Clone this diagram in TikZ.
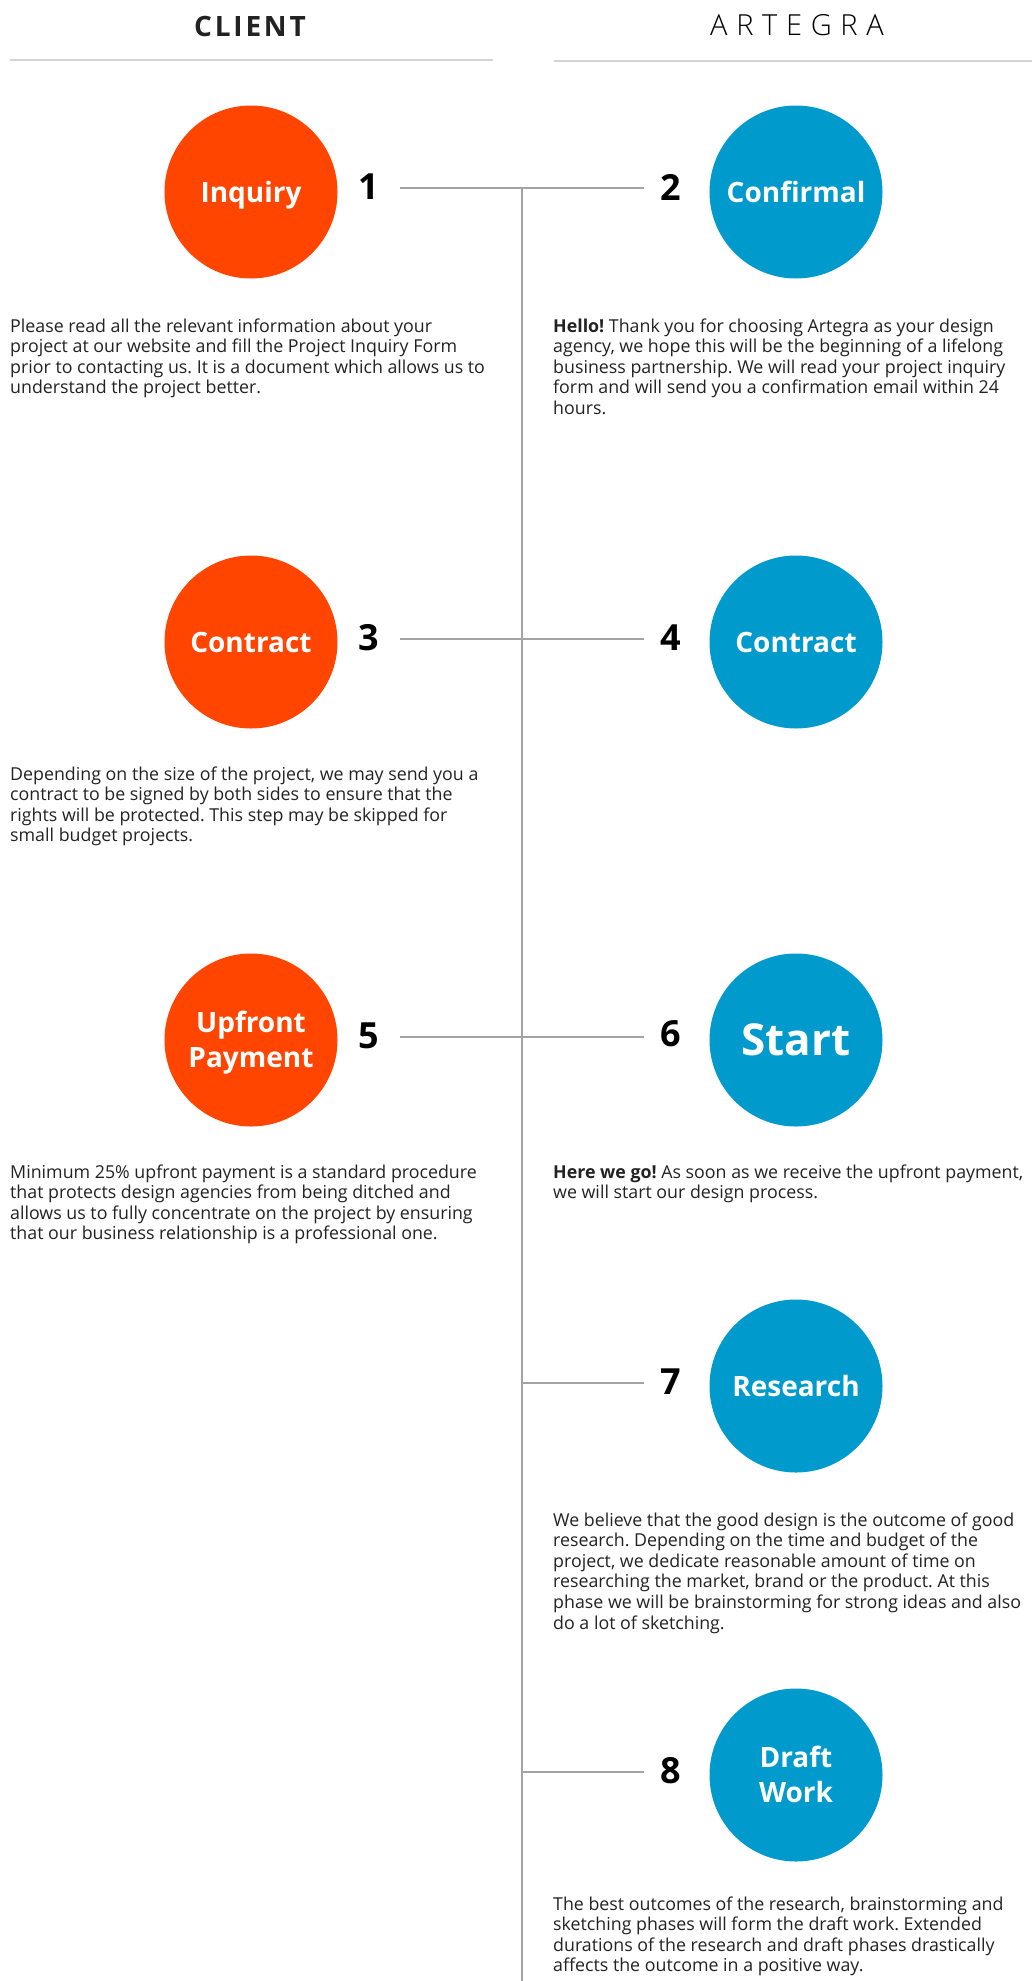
\documentclass[tikz,border=0pt]{standalone}
\usepackage{fontspec}
\setmainfont{Open Sans}
\IfFontExistsTF{Open Sans Light}{\newfontfamily\artfont{Open Sans Light}[LetterSpace=30]}{\newfontfamily\artfont{Open Sans}[LetterSpace=30]}
\newfontfamily\clientfont{Open Sans}[LetterSpace=10]
\definecolor{corange}{HTML}{FF4500}
\definecolor{cblue}{HTML}{009ACD}
\definecolor{ctext}{HTML}{222222}
\definecolor{cline}{HTML}{A3A3A3}
\definecolor{chead}{HTML}{D4D4D4}
\newcommand\bodysetup{\fontsize{17.8}{20.6}\selectfont\lineskiplimit=-100pt\relax\lineskip=0pt\relax\frenchspacing}
\tikzset{
  circbase/.style={circle, minimum size=173pt, inner sep=0pt, text=white, align=center, font=\bfseries\fontsize{28}{35}\selectfont, text height=20pt, text depth=0pt},
  clientcirc/.style={circbase, fill=corange},
  artcirc/.style={circbase, fill=cblue},
  twoline/.style={text height=55pt, text depth=0pt},
  stepnum/.style={inner sep=0pt, text=black, font=\bfseries\fontsize{36}{36}\selectfont},
  bodytext/.style={anchor=base west, align=left, inner sep=0pt, text=ctext, font=\bodysetup},
  conn/.style={draw=cline, line width=1.4pt},
  headline/.style={draw=chead, line width=2pt}
}
\begin{document}
\begin{tikzpicture}[x=1pt,y=-1pt]
\useasboundingbox (0,0) rectangle (1032,1981);
% headers
\node[inner sep=0pt, font=\clientfont\bfseries\fontsize{28}{28}\selectfont, text=ctext] (hclient) at (250,26) {CLIENT};
\node[inner sep=0pt, font=\artfont\fontsize{29}{29}\selectfont, text=black] (hart) at (797,25) {ARTEGRA};
\coordinate (hl1) at (10,60); \coordinate (hl2) at (493,60);
\coordinate (hr1) at (554,61); \coordinate (hr2) at (1032,61);
\draw[headline] (hl1) -- (hl2);
\draw[headline] (hr1) -- (hr2);
% circles
\node[clientcirc] (c1) at (251,192) {Inquiry};
\node[artcirc] (c2) at (796,192) {Confirmal};
\node[clientcirc] (c3) at (251,642) {Contract};
\node[artcirc] (c4) at (796,642) {Contract};
\node[clientcirc, twoline] (c5) at (251,1040) {Upfront\\Payment};
\node[artcirc, font=\bfseries\fontsize{44}{44}\selectfont, text height=31pt] (c6) at (796,1040) {Start};
\node[artcirc] (c7) at (796,1386) {Research};
\node[artcirc, twoline] (c8) at (796,1775) {Draft\\Work};
% numbers
\node[stepnum] (n1) at (369,187) {1};
\node[stepnum] (n2) at (671,187) {2};
\node[stepnum] (n3) at (369,638) {3};
\node[stepnum] (n4) at (671,638) {4};
\node[stepnum] (n5) at (369,1036) {5};
\node[stepnum] (n6) at (671,1034) {6};
\node[stepnum] (n7) at (671,1382) {7};
\node[stepnum] (n8) at (671,1771) {8};
% connector coordinates
\coordinate (a1) at (400,188); \coordinate (j1) at (522,188); \coordinate (b1) at (644,188);
\coordinate (a3) at (400,639); \coordinate (j3) at (522,639); \coordinate (b3) at (644,639);
\coordinate (a5) at (400,1037); \coordinate (j5) at (522,1037); \coordinate (b5) at (644,1037);
\coordinate (j7) at (522,1383); \coordinate (b7) at (644,1383);
\coordinate (j8) at (522,1772); \coordinate (b8) at (644,1772);
\coordinate (jend) at (522,1981);
\draw[conn] (a1) -- (b1);
\draw[conn] (a3) -- (b3);
\draw[conn] (a5) -- (b5);
\draw[conn] (j7) -- (b7);
\draw[conn] (j8) -- (b8);
\draw[conn] (j1) -- (jend);
% texts (anchor = baseline of last line)
\node[bodytext] (t1) at (10,393.8) {Please read all the relevant information about your\\project at our website and fill the Project Inquiry Form\\prior to contacting us. It is a document which allows us to\\understand the project better.};
\node[bodytext] (t2) at (553,414.4) {\textbf{Hello!} Thank you for choosing Artegra as your design\\agency, we hope this will be the beginning of a lifelong\\business partnership. We will read your project inquiry\\form and will send you a confirmation email within 24\\hours.};
\node[bodytext] (t3) at (10,841.8) {Depending on the size of the project, we may send you a\\contract to be signed by both sides to ensure that the\\rights will be protected. This step may be skipped for\\small budget projects.};
\node[bodytext] (t5) at (10,1239.8) {Minimum 25\% upfront payment is a standard procedure\\that protects design agencies from being ditched and\\allows us to fully concentrate on the project by ensuring\\that our business relationship is a professional one.};
\node[bodytext] (t6) at (553,1198.6) {\textbf{Here we go!} As soon as we receive the upfront payment,\\we will start our design process.};
\node[bodytext] (t7) at (553,1629) {We believe that the good design is the outcome of good\\research. Depending on the time and budget of the\\project, we dedicate reasonable amount of time on\\researching the market, brand or the product. At this\\phase we will be brainstorming for strong ideas and also\\do a lot of sketching.};
\node[bodytext] (t8) at (553,1971.8) {The best outcomes of the research, brainstorming and\\sketching phases will form the draft work. Extended\\durations of the research and draft phases drastically\\affects the outcome in a positive way.};
\end{tikzpicture}
\end{document}
